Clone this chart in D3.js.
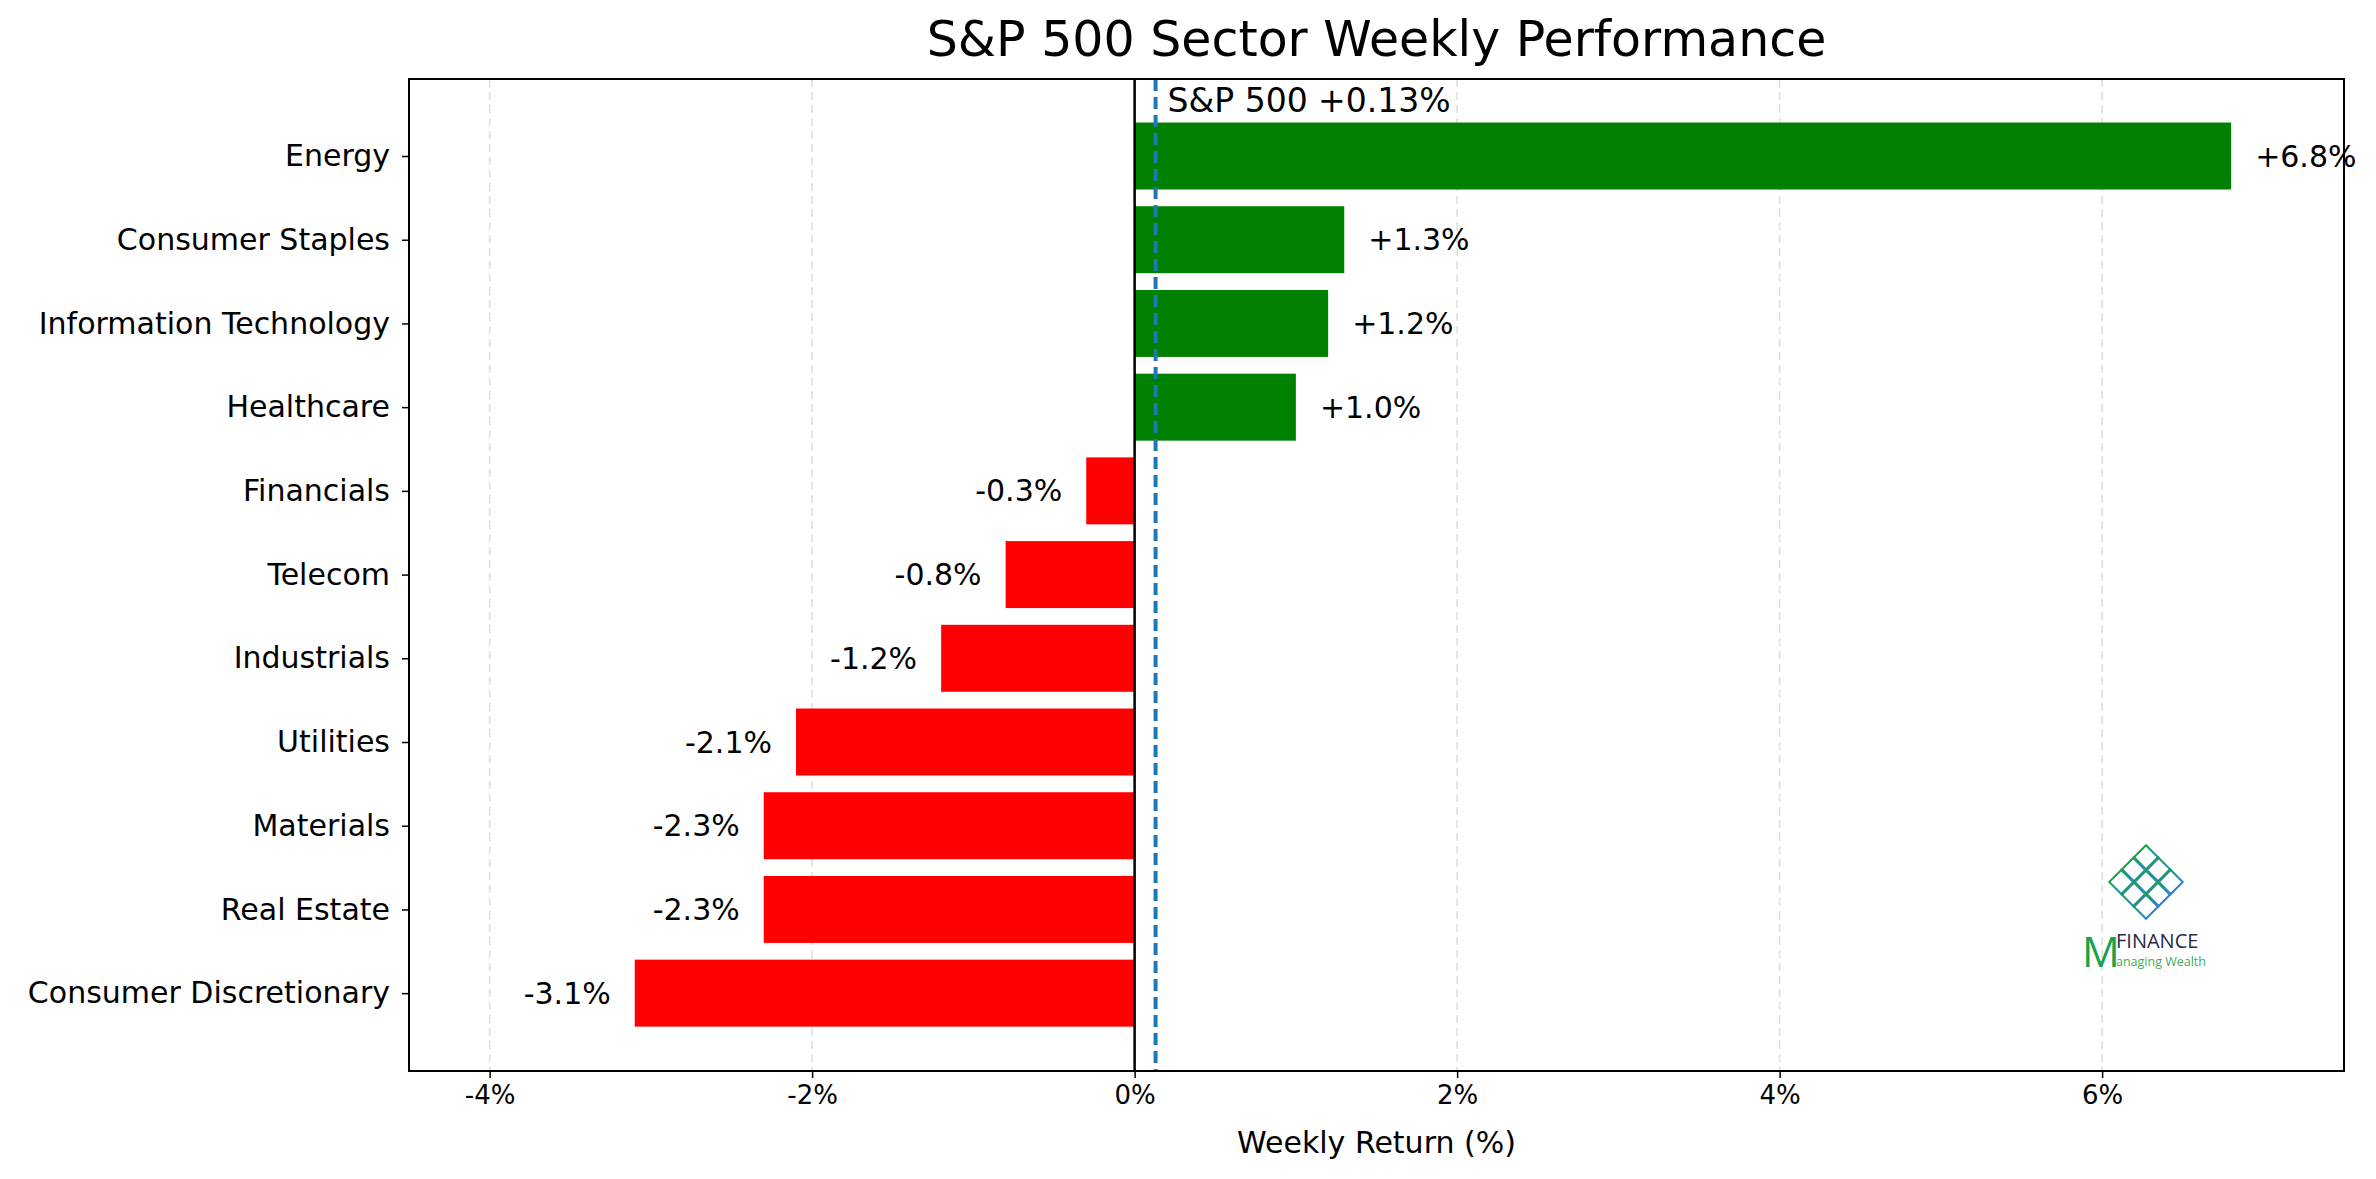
<!DOCTYPE html><html><head><meta charset="utf-8"><script src="https://cdn.jsdelivr.net/npm/d3@7"></script>
<style>body{margin:0;background:#fff}svg{font-family:"DejaVu Sans",sans-serif}</style></head><body><svg id="c" width="2376" height="1179"></svg>
<script>
const sectors=["Energy","Consumer Staples","Information Technology","Healthcare","Financials","Telecom","Industrials","Utilities","Materials","Real Estate","Consumer Discretionary"];
const returns=[6.8,1.3,1.2,1.0,-0.3,-0.8,-1.2,-2.1,-2.3,-2.3,-3.1];
const xTicks=[-4,-2,0,2,4,6];
const spx=0.13;
const svg=d3.select("#c");
const L=409,R=2344,T=79,B=1071;
const x=d3.scaleLinear().domain([-4.5,7.5]).range([L,R]);
const y=d3.scaleLinear().domain([-0.92,10.93]).range([T,B]);
const bh=(y(1)-y(0))*0.8;
const g=svg.append("g");
g.selectAll(".grid").data(xTicks).enter().append("line").attr("x1",d=>x(d)).attr("x2",d=>x(d)).attr("y1",T).attr("y2",B).attr("stroke","#ddd").attr("stroke-width",1.5).attr("stroke-dasharray","8,5");
g.selectAll(".bar").data(returns).enter().append("rect").attr("x",d=>x(Math.min(0,d))).attr("width",d=>Math.abs(x(d)-x(0))).attr("y",(d,i)=>y(i)-bh/2).attr("height",bh).attr("fill",d=>d>0?"#008000":"#ff0000");
g.selectAll(".lab").data(returns).enter().append("text").attr("x",d=>d>0?x(d)+24:x(d)-24).attr("y",(d,i)=>y(i)).attr("dy","0.35em").attr("text-anchor",d=>d>0?"start":"end").attr("font-size",30).text(d=>(d>0?"+":"")+d.toFixed(1)+"%");
g.append("line").attr("x1",x(0)).attr("x2",x(0)).attr("y1",T).attr("y2",B).attr("stroke","#000").attr("stroke-width",2.5);
g.append("line").attr("x1",x(spx)).attr("x2",x(spx)).attr("y1",T).attr("y2",B).attr("stroke","#1f77b4").attr("stroke-width",4).attr("stroke-dasharray","12,6");
g.append("text").attr("x",x(spx)+12).attr("y",112).attr("font-size",33).text("S&P 500 +0.13%");
svg.append("rect").attr("x",L).attr("y",T).attr("width",R-L).attr("height",B-T).attr("fill","none").attr("stroke","#000").attr("stroke-width",2);
const xa=svg.append("g").attr("transform",`translate(0,${B})`).call(d3.axisBottom(x).tickValues(xTicks).tickFormat(d=>d+"%").tickSize(7).tickPadding(8));
xa.select(".domain").remove();xa.selectAll("text").attr("font-size",26).attr("font-family","DejaVu Sans");xa.selectAll("line").attr("stroke-width",1.5);
const ya=svg.append("g").attr("transform",`translate(${L},0)`).call(d3.axisLeft(y).tickValues(d3.range(sectors.length)).tickFormat(i=>sectors[i]).tickSize(7).tickPadding(12));
ya.select(".domain").remove();ya.selectAll("text").attr("font-size",30).attr("font-family","DejaVu Sans");ya.selectAll("line").attr("stroke-width",1.5);
svg.append("text").attr("x",(L+R)/2).attr("y",1153).attr("text-anchor","middle").attr("font-size",30).text("Weekly Return (%)");
svg.append("text").attr("x",(L+R)/2).attr("y",56).attr("text-anchor","middle").attr("font-size",49).text("S&P 500 Sector Weekly Performance");
// logo
const lg=svg.append("g").attr("transform","translate(2146,882)");
const grad=svg.append("defs").append("linearGradient").attr("id","lgr");
grad.append("stop").attr("offset","0").attr("stop-color","#16a34a");grad.append("stop").attr("offset","1").attr("stop-color","#2f7fe0");
[[0,-24],[-12,-12],[12,-12],[0,0],[-24,0],[24,0],[-12,12],[12,12],[0,24]].forEach(([a,b])=>{
 lg.append("rect").attr("x",a-9).attr("y",b-9).attr("width",18).attr("height",18).attr("fill","none").attr("stroke","url(#lgr)").attr("stroke-width",2).attr("transform",`rotate(45 ${a} ${b})`);});
svg.append("text").attr("x",2082).attr("y",967).attr("font-size",42).attr("fill","#16a34a").attr("font-family","Open Sans").text("M");
svg.append("text").attr("x",2116).attr("y",948).attr("font-size",20).attr("fill","#2a2a4a").attr("font-family","Open Sans").text("FINANCE");
svg.append("text").attr("x",2116).attr("y",966).attr("font-size",12.5).attr("fill","#3cab5a").attr("font-family","Open Sans").text("anaging Wealth");
</script></body></html>
